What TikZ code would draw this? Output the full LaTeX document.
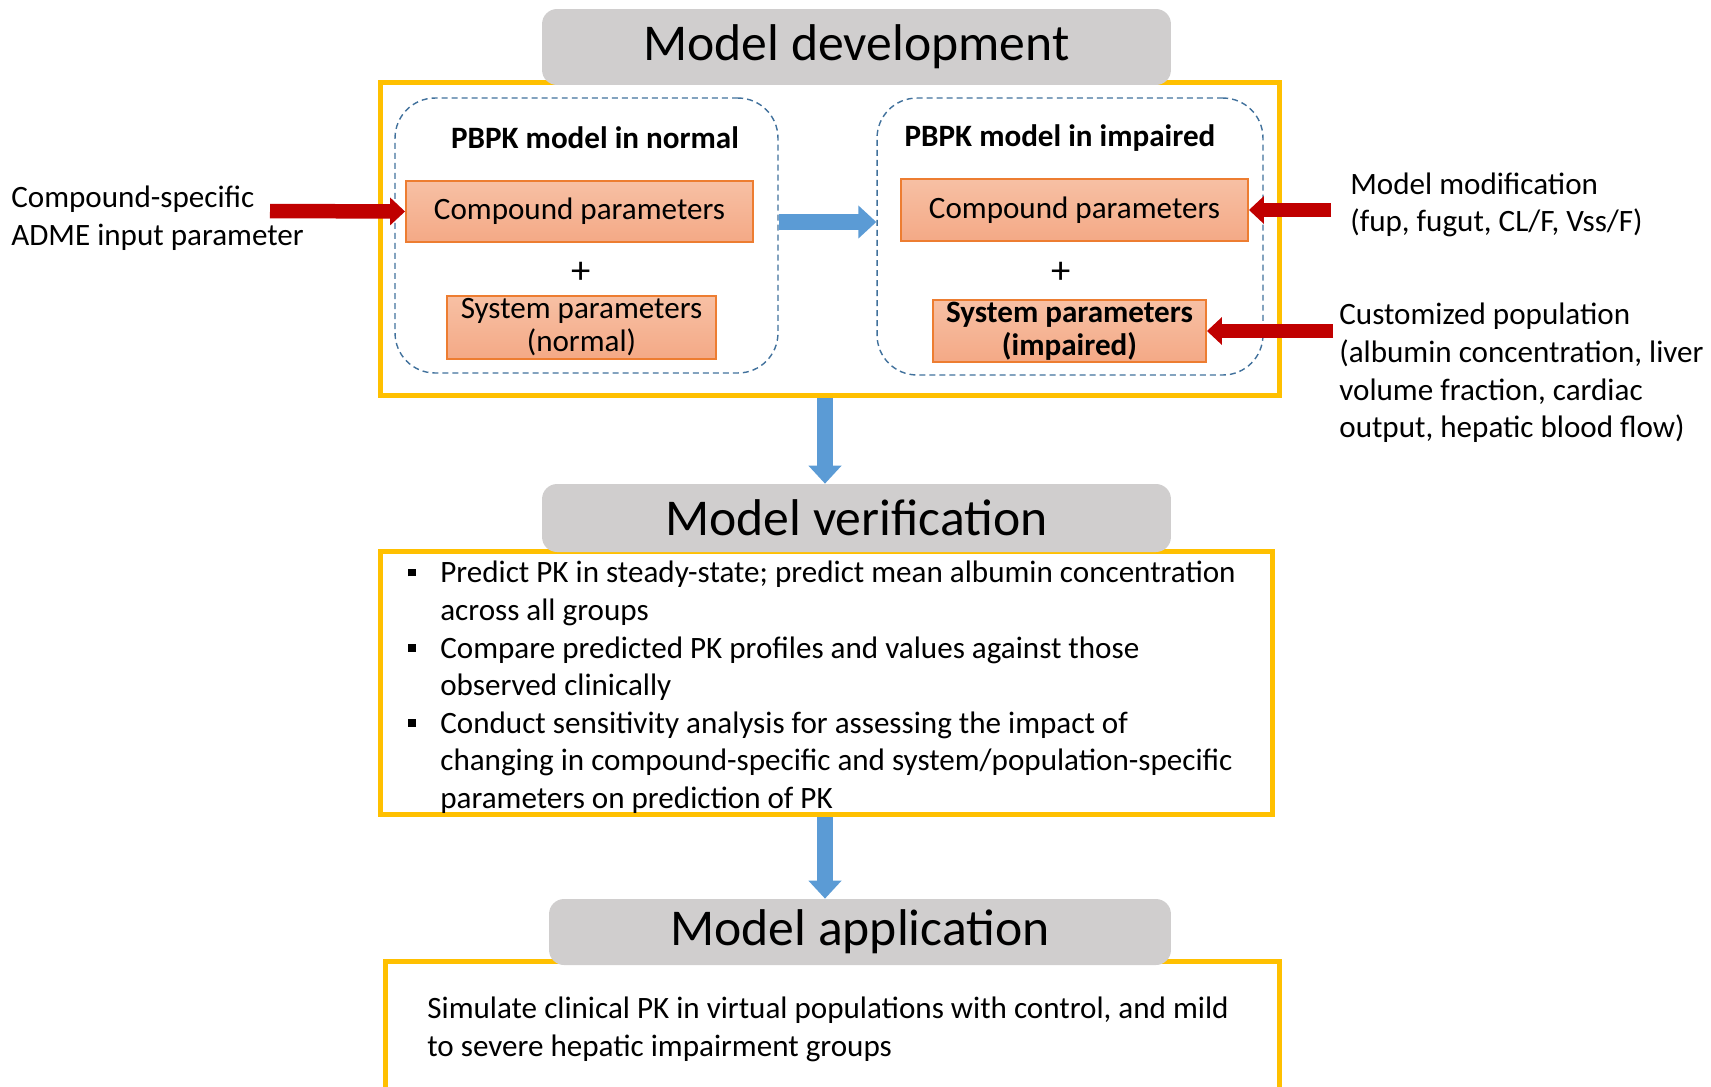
\documentclass[tikz,border=0pt]{standalone}
\usepackage{fontspec}
\setmainfont{Carlito}
\usepackage{tikz}
\usetikzlibrary{arrows.meta}

\definecolor{frameyellow}{HTML}{FFC000}
\definecolor{titlegray}{HTML}{D0CECE}
\definecolor{boxorange}{HTML}{ED7D31}
\definecolor{boxtop}{HTML}{F7C0A4}
\definecolor{boxbot}{HTML}{F4A986}
\definecolor{flowblue}{HTML}{5B9BD5}
\definecolor{dashblue}{HTML}{41719C}
\definecolor{inred}{HTML}{C00000}

\newcommand{\sqbullet}{\makebox[0.66cm][l]{\hspace{0.02cm}\rule[0.13cm]{0.15cm}{0.15cm}}}

\begin{document}
\begin{tikzpicture}[x=0.02cm,y=-0.02cm,
    every node/.style={font=\fontsize{17.7}{21.4}\selectfont},
    stage/.style={rectangle,rounded corners=0.3cm,fill=titlegray,
      font=\fontsize{29.4}{34}\selectfont,minimum width=12.58cm},
    frame/.style={draw=frameyellow,line width=0.1cm},
    model/.style={draw=dashblue,dash pattern=on 3.4pt off 2.3pt,line width=0.8pt,
      rounded corners=0.8cm},
    param/.style={draw=boxorange,line width=1.1pt,top color=boxtop,bottom color=boxbot,
      align=center,inner sep=1pt,font=\fontsize{17.7}{18.8}\selectfont},
    head/.style={font=\fontsize{17.7}{21.4}\selectfont\bfseries},
    plus/.style={font=\fontsize{22}{24}\selectfont},
    side/.style={align=left,inner sep=0pt},
    flow/.style={draw=flowblue,line width=0.32cm,-{Triangle[length=0.36cm,width=0.64cm]}},
    input/.style={draw=inred,line width=0.29cm,-{Triangle[length=0.3cm,width=0.54cm]}}]

    \useasboundingbox (0,0) rectangle (1711,1086);
    \clip (0,0) rectangle (1711,1086);

    \node[frame,minimum width=18cm,minimum height=6.28cm] (devbox) at (830,239) {};
    \node[stage,minimum height=1.52cm] (devtitle) at (856.5,47) {\raisebox{-0.06cm}{Model development}};

    \node[model,minimum width=7.66cm,minimum height=5.5cm] (normal) at (586.5,235.5) {};
    \node[model,minimum width=7.72cm,minimum height=5.54cm] (impaired) at (1070,236.5) {};

    \node[head] (normaltitle) at (595,138) {PBPK model in normal};
    \node[param,minimum width=6.94cm,minimum height=1.22cm] (compN) at (579.5,211.5) {Compound parameters};
    \node[plus] (plusN) at (581,273) {+};
    \node[param,minimum width=5.38cm,minimum height=1.26cm] (sysN) at (581.5,327.5) {System parameters\\(normal)};

    \node[head] (impairedtitle) at (1060,138) {PBPK model in impaired};
    \node[param,minimum width=6.94cm,minimum height=1.24cm] (compI) at (1074.5,210) {Compound parameters};
    \node[plus] (plusI) at (1061,273) {+};
    \node[param,font=\fontsize{17.7}{18.8}\selectfont\bfseries,minimum width=5.46cm,
      minimum height=1.24cm] (sysI) at (1069.5,331) {System parameters\\(impaired)};

    \node[side,anchor=west] (adme) at (11,218) {Compound-specific\\ADME input parameter};
    \node[side,anchor=west] (modif) at (1350,205) {Model modification\\(fup, fugut, CL/F, Vss/F)};
    \node[side,anchor=west] (custom) at (1339,373) {Customized population\\(albumin concentration, liver\\volume fraction, cardiac\\output, hepatic blood flow)};

    \coordinate (admeend) at (270,211);
    \coordinate (modifend) at (1331,210);
    \coordinate (customend) at (1333,331);
    \coordinate (midrow) at (800,222);
    \coordinate (downcol) at (825,0);

    \draw[input] (admeend) -- (compN.west);
    \draw[input] (modifend) -- (compI.east);
    \draw[input] (customend) -- (sysI.east);
    \draw[flow] (normal.east |- midrow) -- (impaired.west |- midrow);

    \node[frame,minimum width=17.86cm,minimum height=5.28cm] (verbox) at (826.5,683) {};
    \node[stage,minimum height=1.36cm] (vertitle) at (856.5,518) {\raisebox{-0.06cm}{Model verification}};
    \node[side,anchor=north west] (verlist) at (407,561) {%
      \sqbullet Predict PK in steady-state; predict mean albumin concentration\\
      \hspace*{0.66cm}across all groups\\
      \sqbullet Compare predicted PK profiles and values against those\\
      \hspace*{0.66cm}observed clinically\\
      \sqbullet Conduct sensitivity analysis for assessing the impact of\\
      \hspace*{0.66cm}changing in compound-specific and system/population-specific\\
      \hspace*{0.66cm}parameters on prediction of PK};

    \draw[flow] (devbox.south -| downcol) -- (vertitle.north -| downcol);

    \node[frame,anchor=north,minimum width=17.9cm,minimum height=3cm] (appbox) at (832.5,959) {};
    \node[stage,minimum width=12.44cm,minimum height=1.32cm] (apptitle) at (860,932) {\raisebox{-0.06cm}{Model application}};
    \node[side,anchor=north west] (apptext) at (427,997) {Simulate clinical PK in virtual populations with control, and mild\\to severe hepatic impairment groups};

    \draw[flow] (verbox.south -| downcol) -- (apptitle.north -| downcol);

\end{tikzpicture}
\end{document}
